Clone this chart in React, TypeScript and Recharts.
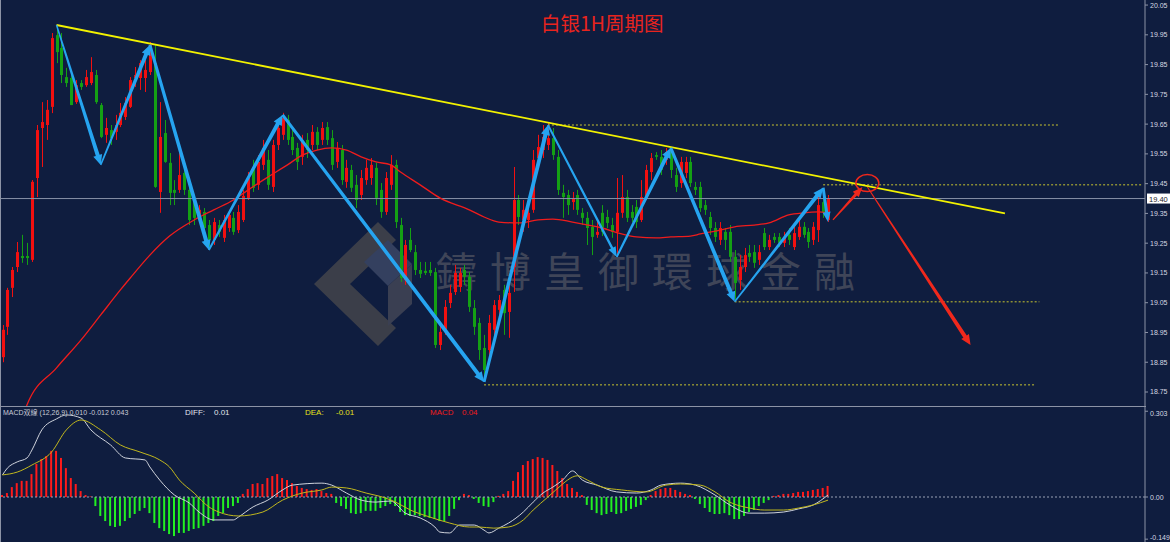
import React from 'react';
import { ComposedChart, Bar, Line, XAxis, YAxis, ReferenceLine, ReferenceDot, Cell } from 'recharts';

// ---- data ----
// [open, high, low, close], one per 1H bar
const candles: [number, number, number, number][] = [
  [18.867, 18.975, 18.85, 18.959], [18.969, 19.1, 18.942, 19.093], [19.1, 19.17, 19.069, 19.16], [19.17, 19.254, 19.153, 19.22],
  [19.207, 19.278, 19.184, 19.2], [19.207, 19.251, 19.177, 19.2], [19.194, 19.462, 19.187, 19.456], [19.469, 19.647, 19.405, 19.63],
  [19.637, 19.724, 19.506, 19.657], [19.647, 19.731, 19.597, 19.698], [19.708, 19.956, 19.687, 19.939], [19.949, 19.983, 19.855, 19.892],
  [19.906, 19.956, 19.788, 19.815], [19.808, 19.839, 19.775, 19.788], [19.805, 19.815, 19.714, 19.714], [19.724, 19.798, 19.718, 19.781],
  [19.788, 19.798, 19.765, 19.775], [19.781, 19.832, 19.775, 19.808], [19.788, 19.875, 19.781, 19.825], [19.815, 19.832, 19.718, 19.724],
  [19.714, 19.721, 19.603, 19.607], [19.614, 19.671, 19.587, 19.637], [19.63, 19.647, 19.58, 19.603], [19.624, 19.681, 19.597, 19.647],
  [19.647, 19.721, 19.64, 19.688], [19.674, 19.741, 19.664, 19.721], [19.708, 19.808, 19.704, 19.798], [19.805, 19.842, 19.775, 19.815],
  [19.805, 19.865, 19.765, 19.855], [19.805, 19.865, 19.758, 19.832], [19.825, 19.926, 19.815, 19.916], [19.855, 19.916, 19.436, 19.439],
  [19.422, 19.724, 19.352, 19.607], [19.62, 19.664, 19.52, 19.523], [19.52, 19.553, 19.378, 19.419], [19.429, 19.462, 19.378, 19.419],
  [19.429, 19.553, 19.419, 19.479], [19.486, 19.513, 19.412, 19.429], [19.429, 19.436, 19.311, 19.328], [19.395, 19.412, 19.311, 19.335],
  [19.345, 19.378, 19.321, 19.362], [19.355, 19.368, 19.288, 19.301], [19.311, 19.328, 19.237, 19.261], [19.261, 19.335, 19.244, 19.321],
  [19.311, 19.328, 19.271, 19.288], [19.268, 19.345, 19.254, 19.328], [19.301, 19.362, 19.288, 19.345], [19.335, 19.355, 19.278, 19.288],
  [19.294, 19.378, 19.284, 19.355], [19.328, 19.429, 19.321, 19.409], [19.402, 19.489, 19.395, 19.469], [19.503, 19.53, 19.422, 19.436],
  [19.446, 19.546, 19.429, 19.523], [19.513, 19.597, 19.496, 19.57], [19.53, 19.563, 19.429, 19.446], [19.439, 19.597, 19.422, 19.58],
  [19.58, 19.664, 19.563, 19.637], [19.614, 19.688, 19.597, 19.671], [19.664, 19.681, 19.58, 19.597], [19.607, 19.63, 19.546, 19.563],
  [19.57, 19.587, 19.496, 19.523], [19.54, 19.614, 19.513, 19.59], [19.597, 19.62, 19.536, 19.563], [19.58, 19.647, 19.563, 19.624],
  [19.624, 19.64, 19.563, 19.58], [19.597, 19.657, 19.58, 19.637], [19.64, 19.657, 19.58, 19.597], [19.603, 19.63, 19.496, 19.513],
  [19.523, 19.59, 19.503, 19.57], [19.563, 19.58, 19.446, 19.462], [19.456, 19.53, 19.436, 19.503], [19.496, 19.513, 19.422, 19.436],
  [19.446, 19.479, 19.368, 19.395], [19.412, 19.496, 19.395, 19.469], [19.462, 19.53, 19.446, 19.503], [19.469, 19.536, 19.446, 19.513],
  [19.503, 19.52, 19.378, 19.402], [19.429, 19.452, 19.335, 19.355], [19.355, 19.489, 19.345, 19.469], [19.446, 19.546, 19.429, 19.513],
  [19.513, 19.53, 19.301, 19.321], [19.311, 19.335, 19.12, 19.133], [19.126, 19.261, 19.11, 19.244], [19.261, 19.301, 19.22, 19.227],
  [19.22, 19.244, 19.143, 19.16], [19.16, 19.187, 19.133, 19.147], [19.157, 19.187, 19.143, 19.15], [19.16, 19.187, 19.14, 19.15],
  [19.153, 19.167, 18.898, 18.908], [18.908, 18.975, 18.891, 18.952], [18.959, 19.059, 18.942, 19.036], [19.049, 19.11, 19.032, 19.083],
  [19.086, 19.177, 19.076, 19.15], [19.103, 19.167, 19.086, 19.15], [19.16, 19.177, 19.11, 19.137], [19.137, 19.153, 19.019, 19.036],
  [19.032, 19.059, 18.942, 18.969], [18.982, 18.999, 18.858, 18.891], [18.898, 18.942, 18.784, 18.824], [18.891, 19.009, 18.841, 18.982],
  [18.959, 19.059, 18.925, 19.042], [19.026, 19.076, 18.999, 19.059], [19.093, 19.11, 18.942, 19.015], [19.019, 19.11, 18.932, 19.083],
  [19.17, 19.506, 19.086, 19.395], [19.395, 19.412, 19.311, 19.338], [19.328, 19.395, 19.288, 19.362], [19.328, 19.378, 19.301, 19.352],
  [19.362, 19.563, 19.352, 19.53], [19.536, 19.614, 19.513, 19.573], [19.563, 19.647, 19.536, 19.607], [19.58, 19.654, 19.563, 19.603],
  [19.603, 19.637, 19.53, 19.546], [19.54, 19.563, 19.412, 19.429], [19.419, 19.446, 19.335, 19.405], [19.412, 19.429, 19.345, 19.378],
  [19.388, 19.422, 19.362, 19.402], [19.412, 19.429, 19.345, 19.362], [19.352, 19.368, 19.311, 19.335], [19.335, 19.355, 19.244, 19.301],
  [19.305, 19.328, 19.21, 19.271], [19.278, 19.321, 19.268, 19.288], [19.352, 19.378, 19.274, 19.288], [19.338, 19.362, 19.301, 19.318],
  [19.311, 19.335, 19.268, 19.288], [19.288, 19.469, 19.204, 19.352], [19.352, 19.479, 19.335, 19.405], [19.405, 19.429, 19.321, 19.335],
  [19.355, 19.378, 19.321, 19.335], [19.372, 19.395, 19.301, 19.321], [19.328, 19.462, 19.321, 19.405], [19.405, 19.513, 19.395, 19.496],
  [19.489, 19.553, 19.462, 19.536], [19.546, 19.556, 19.53, 19.54], [19.54, 19.563, 19.479, 19.496], [19.53, 19.57, 19.513, 19.556],
  [19.563, 19.57, 19.469, 19.496], [19.479, 19.503, 19.422, 19.439], [19.452, 19.54, 19.436, 19.523], [19.486, 19.54, 19.469, 19.523],
  [19.523, 19.54, 19.439, 19.452], [19.439, 19.456, 19.412, 19.429], [19.439, 19.456, 19.355, 19.368], [19.378, 19.395, 19.345, 19.362],
  [19.338, 19.355, 19.278, 19.301], [19.301, 19.321, 19.254, 19.271], [19.261, 19.321, 19.244, 19.301], [19.288, 19.301, 19.227, 19.261],
  [19.288, 19.311, 19.187, 19.204], [19.204, 19.227, 19.059, 19.116], [19.126, 19.21, 19.093, 19.17], [19.17, 19.234, 19.153, 19.21],
  [19.217, 19.244, 19.187, 19.204], [19.22, 19.244, 19.167, 19.184], [19.194, 19.244, 19.177, 19.22], [19.284, 19.301, 19.227, 19.237],
  [19.237, 19.278, 19.227, 19.261], [19.271, 19.284, 19.251, 19.261], [19.271, 19.284, 19.237, 19.251], [19.251, 19.288, 19.237, 19.271],
  [19.278, 19.301, 19.244, 19.261], [19.237, 19.311, 19.227, 19.284], [19.271, 19.328, 19.261, 19.305], [19.305, 19.321, 19.268, 19.278],
  [19.288, 19.301, 19.234, 19.254], [19.261, 19.321, 19.244, 19.305], [19.294, 19.412, 19.254, 19.378], [19.388, 19.436, 19.335, 19.352],
  [19.328, 19.412, 19.321, 19.4],
];

// red moving average, read at these bars
const maIdx = [4, 5, 11, 16, 20, 24, 26, 30, 34, 39, 43, 47, 50, 54, 58, 61, 64, 67, 70, 73, 76, 79, 81, 85, 89, 95, 98, 101, 105, 109, 112, 116, 122, 126, 129, 133, 136, 140, 142, 146, 149, 153, 156, 160, 163, 166, 168];
const maVal = [18.599, 18.707, 18.831, 18.925, 19.009, 19.093, 19.133, 19.21, 19.274, 19.328, 19.362, 19.395, 19.429, 19.472, 19.513, 19.546, 19.563, 19.57, 19.563, 19.54, 19.523, 19.513, 19.489, 19.446, 19.402, 19.362, 19.338, 19.321, 19.318, 19.328, 19.331, 19.321, 19.301, 19.281, 19.271, 19.268, 19.271, 19.274, 19.281, 19.294, 19.305, 19.311, 19.318, 19.345, 19.352, 19.355, 19.352];

// MACD histogram, one per bar
const macdHist = [
  0.007, 0.014, 0.035, 0.049, 0.057, 0.057, 0.081, 0.117, 0.134, 0.145,
  0.163, 0.163, 0.138, 0.102, 0.067, 0.046, 0.021, 0.007, 0.002, -0.032,
  -0.067, -0.085, -0.102, -0.106, -0.102, -0.085, -0.074, -0.06, -0.049, -0.039,
  -0.057, -0.092, -0.11, -0.12, -0.131, -0.138, -0.127, -0.127, -0.12, -0.113,
  -0.11, -0.102, -0.092, -0.085, -0.067, -0.057, -0.039, -0.032, -0.021, 0.011,
  0.028, 0.046, 0.049, 0.046, 0.067, 0.074, 0.081, 0.067, 0.06, 0.049,
  0.039, 0.032, 0.028, 0.025, 0.028, 0.021, 0.014, 0.011, -0.021, -0.032,
  -0.042, -0.057, -0.06, -0.057, -0.049, -0.049, -0.049, -0.039, -0.032, -0.025,
  -0.032, -0.053, -0.064, -0.067, -0.064, -0.067, -0.071, -0.074, -0.078, -0.085,
  -0.085, -0.067, -0.042, -0.011, 0.011, 0.007, -0.007, -0.021, -0.032, -0.035,
  -0.018, 0.004, 0.011, 0.021, 0.057, 0.088, 0.113, 0.127, 0.134, 0.141,
  0.138, 0.131, 0.113, 0.092, 0.067, 0.046, 0.032, 0.018, 0.007, -0.028,
  -0.046, -0.057, -0.064, -0.06, -0.053, -0.06, -0.057, -0.049, -0.042, -0.035,
  -0.028, -0.011, 0.007, 0.021, 0.028, 0.032, 0.032, 0.025, 0.018, 0.011,
  0.007, -0.007, -0.025, -0.039, -0.053, -0.06, -0.06, -0.057, -0.064, -0.078,
  -0.078, -0.067, -0.053, -0.046, -0.032, -0.021, -0.011, 0.004, 0.007, 0.011,
  0.011, 0.014, 0.018, 0.018, 0.021, 0.025, 0.028, 0.032, 0.039,
];

// DIFF (white) and DEA (yellow), read at these bars
const diffIdx = [0, 1, 3, 5, 6, 8, 11, 13, 16, 18, 22, 25, 29, 30, 32, 35, 38, 40, 43, 47, 48, 51, 54, 57, 59, 65, 67, 70, 73, 76, 79, 82, 85, 88, 89, 91, 93, 96, 98, 99, 101, 103, 106, 108, 110, 112, 114, 116, 118, 121, 125, 129, 132, 134, 138, 141, 145, 148, 152, 155, 159, 162, 165, 168];
const diffVal = [0.078, 0.102, 0.124, 0.138, 0.166, 0.237, 0.276, 0.29, 0.279, 0.237, 0.184, 0.138, 0.131, 0.106, 0.06, 0.007, -0.021, -0.053, -0.081, -0.081, -0.071, -0.035, -0.011, 0.025, 0.042, 0.049, 0.042, 0.014, -0.011, -0.018, -0.014, -0.057, -0.074, -0.106, -0.124, -0.127, -0.099, -0.099, -0.117, -0.127, -0.11, -0.092, -0.053, -0.018, 0.014, 0.035, 0.06, 0.092, 0.06, 0.042, 0.018, 0.014, 0.025, 0.042, 0.049, 0.042, 0.007, -0.028, -0.057, -0.057, -0.053, -0.042, -0.028, 0.007];
const deaIdx = [0, 3, 6, 10, 13, 16, 20, 24, 28, 32, 34, 36, 39, 42, 44, 48, 53, 57, 61, 65, 67, 70, 74, 78, 80, 83, 87, 91, 95, 97, 100, 103, 106, 108, 111, 114, 115, 117, 119, 122, 126, 131, 135, 138, 142, 145, 148, 152, 155, 159, 162, 165, 168];
const deaVal = [0.078, 0.088, 0.113, 0.159, 0.237, 0.272, 0.237, 0.184, 0.159, 0.131, 0.106, 0.06, 0.014, -0.035, -0.053, -0.067, -0.053, -0.011, 0.014, 0.025, 0.035, 0.032, 0.014, -0.004, -0.018, -0.046, -0.071, -0.092, -0.106, -0.106, -0.11, -0.106, -0.081, -0.046, 0, 0.046, 0.06, 0.075, 0.06, 0.035, 0.025, 0.018, 0.042, 0.046, 0.042, 0.018, -0.018, -0.039, -0.046, -0.046, -0.039, -0.028, -0.011];

// drawn objects
const zigIdx = [11, 20, 30, 42, 57, 98, 111, 125, 136, 149, 167, 168];
const zigPrice = [19.983, 19.513, 19.916, 19.227, 19.681, 18.784, 19.647, 19.204, 19.57, 19.053, 19.436, 19.321];
const trendIdx = [11, 204];
const trendPrice = [19.983, 19.35];
const levelPrice = [19.647, 19.446, 19.053, 18.774];
const levelFrom = [111, 167, 149, 98];
const levelTo = [215, 232, 211, 210];
const forecastIdx = [169, 175, 176, 197];
const forecastPrice = [19.328, 19.439, 19.439, 18.908];
const circleIdx = 176;
const circlePrice = 19.452;

const priceTicks = [20.05, 19.95, 19.85, 19.75, 19.65, 19.55, 19.45, 19.35, 19.25, 19.15, 19.05, 18.95, 18.85, 18.75];
const macdTicks = [0.303, 0, -0.149];
const header = { name: 'MACD双線 (12,26,9) 0.010 -0.012 0.043', diff: '0.01', dea: '-0.01', macd: '0.04' };

// ---- styling ----
const SLOTS = 233;
const BG = '#0f1d3f';
const UP = '#f21010';
const DOWN = '#14a014';
const H_UP = '#ff1a1a';
const H_DOWN = '#22f022';
const BLUE = '#26a4f0';
const RED_ARROW = '#f0281c';
const YELLOW = '#f2f200';
const DOTTED = '#c8c530';
const AXIS = '#8c93a6';
const AXIS_TEXT = '#d4d8e2';
const FONT = 'Liberation Sans, DejaVu Sans, sans-serif';
// shaft width at start / end of every zigzag leg
const legW: [number, number][] = [[1.5, 4], [1.5, 4], [3, 4], [2, 4], [3, 4], [3, 4], [2, 2.5], [2, 4], [3, 4], [1.5, 4], [3, 3]];

const lookup = (idx: number[], val: number[]) => {
  const m = new Map<number, number>();
  idx.forEach((k, j) => m.set(k, val[j]));
  return m;
};
const maMap = lookup(maIdx, maVal);
const diffMap = lookup(diffIdx, diffVal);
const deaMap = lookup(deaIdx, deaVal);

const rows = Array.from({ length: SLOTS }, (_, i) => {
  const c = candles[i];
  return {
    idx: i,
    range: c ? [c[2], c[1]] : null,
    o: c ? c[0] : null,
    h: c ? c[1] : null,
    l: c ? c[2] : null,
    c: c ? c[3] : null,
    ma: maMap.has(i) ? maMap.get(i) : null,
    hist: i < macdHist.length ? macdHist[i] : null,
    diff: diffMap.has(i) ? diffMap.get(i) : null,
    dea: deaMap.has(i) ? deaMap.get(i) : null,
  };
});
const lastClose = candles[candles.length - 1][3];

function Candle(props: any) {
  const { x, y, width, height, payload } = props;
  if (!payload || payload.o == null || x == null) return null;
  const top = Math.min(y, y + height);
  const span = Math.abs(height);
  const { o, h, l, c } = payload;
  const k = h > l ? span / (h - l) : 0;
  const py = (v: number) => top + (h - v) * k;
  const color = c >= o ? UP : DOWN;
  const bodyTop = py(Math.max(o, c));
  const bodyH = Math.max(1, py(Math.min(o, c)) - bodyTop);
  const cx = Math.round(x + width / 2) + 0.5;
  return (
    <g>
      <line x1={cx} x2={cx} y1={top} y2={top + span} stroke={color} strokeWidth={1} />
      <rect x={cx - 1.5} y={bodyTop} width={3} height={bodyH} fill={color} />
    </g>
  );
}

const arrow = (color: string, w0: number, w1: number) => (p: any) => {
  const { x1, y1, x2, y2 } = p;
  if ([x1, y1, x2, y2].some((v) => v == null || Number.isNaN(v))) return null;
  const dx = x2 - x1;
  const dy = y2 - y1;
  const len = Math.hypot(dx, dy) || 1;
  const ux = dx / len;
  const uy = dy / len;
  const nx = -uy;
  const ny = ux;
  const head = Math.min(10, len * 0.45);
  const hw = Math.max(w1 * 1.15, 4);
  const bx = x2 - ux * head;
  const by = y2 - uy * head;
  const pts = [
    [x1 + (nx * w0) / 2, y1 + (ny * w0) / 2],
    [bx + (nx * w1) / 2, by + (ny * w1) / 2],
    [bx + nx * hw, by + ny * hw],
    [x2, y2],
    [bx - nx * hw, by - ny * hw],
    [bx - (nx * w1) / 2, by - (ny * w1) / 2],
    [x1 - (nx * w0) / 2, y1 - (ny * w0) / 2],
  ];
  return <polygon points={pts.map((q) => q.join(',')).join(' ')} fill={color} />;
};

const PriceTag = (p: any) => {
  const vb = p.viewBox || {};
  const x = (vb.x || 0) + (vb.width || 0);
  const y = vb.y || 0;
  return (
    <g>
      <rect x={x + 2} y={y - 5} width={23} height={10} fill="#ffffff" />
      <text x={x + 4} y={y + 3} fontSize={7.5} fill="#1a1a2a" fontFamily={FONT}>
        {lastClose.toFixed(2)}
      </text>
    </g>
  );
};

const MacdTick = (p: any) => {
  const v = p.payload?.value;
  const dy = v === macdTicks[0] ? 2 : v === macdTicks[2] ? -2 : 0;
  const label = v === 0 ? '0.00' : String(v);
  return (
    <text x={p.x} y={p.y + dy + 2.5} fontSize={7} fill={AXIS_TEXT} fontFamily={FONT}>
      {label}
    </text>
  );
};

export default function App() {
  return (
    <div style={{ position: 'relative', width: 1170, height: 542, background: BG, overflow: 'hidden', fontFamily: FONT }}>
      <style>{'body{margin:0;background:' + BG + '}'}</style>

      {/* watermark */}
      <svg width={100} height={124} style={{ position: 'absolute', left: 312, top: 222 }}>
        <polygon points="66,0 84,18 38,62 84,106 66,124 2,62" fill="#3b3e49" />
        <polygon points="52,40 76,18 100,42 76,64" fill="#34405f" />
        <polygon points="76,64 100,42 100,82 76,104" fill="#3a3f52" />
      </svg>
      <div
        style={{
          position: 'absolute', left: 436, top: 246, fontSize: 41, lineHeight: '46px', letterSpacing: 13,
          color: '#3f4558', fontFamily: 'Noto Sans CJK TC, Noto Sans CJK SC, sans-serif', whiteSpace: 'nowrap',
        }}
      >
        鑄博皇御環球金融
      </div>

      {/* title */}
      <div
        style={{
          position: 'absolute', left: 541, top: 10, fontSize: 19.5, lineHeight: '26px', color: '#e8241e',
          fontFamily: 'Noto Sans CJK SC, sans-serif', whiteSpace: 'nowrap',
        }}
      >
        白银1H周期图
      </div>

      <div style={{ position: 'absolute', left: 0, top: 0 }}>
        <ComposedChart width={1170} height={406} data={rows} margin={{ top: 0, right: 0, bottom: 0, left: 0 }}>
          <XAxis dataKey="idx" hide />
          <YAxis
            orientation="right"
            width={25}
            domain={[18.703, 20.067]}
            allowDataOverflow
            ticks={priceTicks}
            interval={0}
            tickFormatter={(v: number) => v.toFixed(2)}
            tick={{ fill: AXIS_TEXT, fontSize: 7, fontFamily: FONT }}
            tickSize={3}
            tickMargin={2}
            stroke={AXIS}
          />
          <ReferenceLine y={lastClose} stroke="#8790a6" strokeWidth={1} label={PriceTag} />
          <Bar dataKey="range" barSize={3} shape={Candle} isAnimationActive={false} />
          <Line dataKey="ma" type="monotone" stroke="#f01c1c" strokeWidth={1.3} dot={false} connectNulls isAnimationActive={false} />
          {levelPrice.map((p, k) => (
            <ReferenceLine
              key={'lv' + k}
              segment={[{ x: levelFrom[k], y: p }, { x: levelTo[k], y: p }]}
              stroke={DOTTED}
              strokeWidth={1}
              strokeDasharray="2 2"
            />
          ))}
          <ReferenceLine
            segment={[{ x: trendIdx[0], y: trendPrice[0] }, { x: trendIdx[1], y: trendPrice[1] }]}
            stroke={YELLOW}
            strokeWidth={1.8}
          />
          {zigIdx.slice(0, -1).map((xi, k) => (
            <ReferenceLine
              key={'zz' + k}
              segment={[{ x: xi, y: zigPrice[k] }, { x: zigIdx[k + 1], y: zigPrice[k + 1] }]}
              shape={arrow(BLUE, legW[k][0], legW[k][1])}
            />
          ))}
          <ReferenceLine
            segment={[{ x: forecastIdx[0], y: forecastPrice[0] }, { x: forecastIdx[1], y: forecastPrice[1] }]}
            shape={arrow(RED_ARROW, 1.2, 3)}
          />
          <ReferenceLine
            segment={[{ x: forecastIdx[2], y: forecastPrice[2] }, { x: forecastIdx[3], y: forecastPrice[3] }]}
            shape={arrow(RED_ARROW, 1, 4)}
          />
          <ReferenceDot
            x={circleIdx}
            y={circlePrice}
            r={10}
            shape={(p: any) => (
              <ellipse cx={p.cx} cy={p.cy} rx={11.5} ry={8.5} fill="none" stroke={RED_ARROW} strokeWidth={1.5} />
            )}
          />
        </ComposedChart>
      </div>

      {/* panel separator and left frame */}
      <div style={{ position: 'absolute', left: 0, top: 406, width: 1146, height: 1, background: AXIS }} />
      <div style={{ position: 'absolute', left: 0, top: 0, width: 1, height: 542, background: AXIS }} />

      <div style={{ position: 'absolute', left: 0, top: 407 }}>
        <ComposedChart width={1170} height={135} data={rows} margin={{ top: 0, right: 0, bottom: 0, left: 0 }}>
          <XAxis dataKey="idx" hide />
          <YAxis
            orientation="right"
            width={25}
            domain={[-0.159, 0.318]}
            allowDataOverflow
            ticks={macdTicks}
            interval={0}
            tick={MacdTick}
            tickSize={3}
            tickMargin={2}
            stroke={AXIS}
          />
          <ReferenceLine y={0} stroke="#9aa2b6" strokeDasharray="2 2" />
          <Bar dataKey="hist" barSize={2} isAnimationActive={false}>
            {rows.map((r, i) => (
              <Cell key={i} fill={(r.hist ?? 0) >= 0 ? H_UP : H_DOWN} />
            ))}
          </Bar>
          <Line dataKey="diff" type="monotone" stroke="#cfd3dc" strokeWidth={1} dot={false} connectNulls isAnimationActive={false} />
          <Line dataKey="dea" type="monotone" stroke="#c2b81e" strokeWidth={1} dot={false} connectNulls isAnimationActive={false} />
        </ComposedChart>
      </div>

      {/* MACD header */}
      <div style={{ position: 'absolute', left: 3, top: 408, fontSize: 7, lineHeight: '10px', color: '#c8ccd6', whiteSpace: 'nowrap', fontFamily: FONT + ', Noto Sans CJK TC' }}>
        {header.name}
      </div>
      <div style={{ position: 'absolute', left: 185, top: 408, fontSize: 8, lineHeight: '10px', color: '#e0e4ec' }}>DIFF:</div>
      <div style={{ position: 'absolute', left: 214, top: 408, fontSize: 8, lineHeight: '10px', color: '#e0e4ec' }}>{header.diff}</div>
      <div style={{ position: 'absolute', left: 305, top: 408, fontSize: 8, lineHeight: '10px', color: '#e6e01a' }}>DEA:</div>
      <div style={{ position: 'absolute', left: 336, top: 408, fontSize: 8, lineHeight: '10px', color: '#e6e01a' }}>{header.dea}</div>
      <div style={{ position: 'absolute', left: 430, top: 408, fontSize: 8, lineHeight: '10px', color: '#f01c1c' }}>MACD</div>
      <div style={{ position: 'absolute', left: 462, top: 408, fontSize: 8, lineHeight: '10px', color: '#f01c1c' }}>{header.macd}</div>
    </div>
  );
}
